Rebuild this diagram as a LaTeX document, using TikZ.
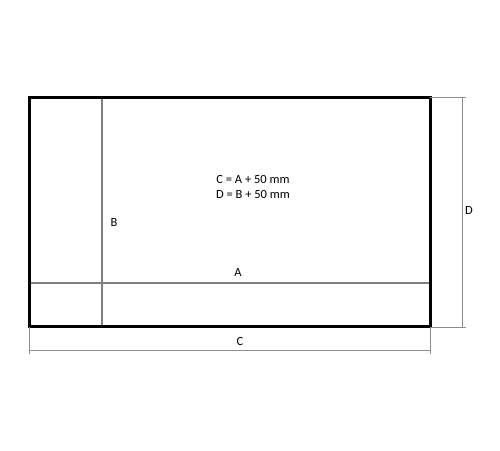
\documentclass[tikz,border=0pt]{standalone}
\usepackage{fontspec}
\setmainfont{Carlito}
\begin{document}
\begin{tikzpicture}[x=1pt,y=-1pt,
  outer/.style={draw=black,line width=3pt},
  inner/.style={draw=black!50,line width=1.1pt},
  dimline/.style={draw=black!45,line width=0.9pt},
  lbl/.style={font=\fontsize{12.5}{15}\selectfont,inner sep=0pt}]
\useasboundingbox (0,0) rectangle (500,450);
\coordinate (tl) at (29,97);
\coordinate (br) at (430,326);
\coordinate (vt) at (102,97);
\coordinate (vb) at (102,326);
\coordinate (hl) at (29,283);
\coordinate (hr) at (430,283);
\draw[inner] (vt) -- (vb);
\draw[inner] (hl) -- (hr);
\draw[outer] (tl) rectangle (br);
% D dimension
\coordinate (dt) at (462,97);
\coordinate (db) at (462,327);
\coordinate (et1) at (466,97);
\coordinate (et2) at (466,327);
\draw[dimline] (430,97) -- (et1);
\draw[dimline] (430,327) -- (et2);
\draw[dimline] (dt) -- (db);
% C dimension
\coordinate (cl) at (29,350);
\coordinate (cr) at (430,350);
\draw[dimline] (29,327) -- (29,354);
\draw[dimline] (430,327) -- (430,354);
\draw[dimline] (cl) -- (cr);
\node[lbl] (B) at (114,222) {B};
\node[lbl] (A) at (238,272) {A};
\node[lbl] (C) at (240,341) {C};
\node[lbl] (D) at (469,210) {D};
\node[lbl] (f1) at (253,179) {C = A + 50 mm};
\node[lbl] (f2) at (253,194) {D = B + 50 mm};
\end{tikzpicture}
\end{document}
